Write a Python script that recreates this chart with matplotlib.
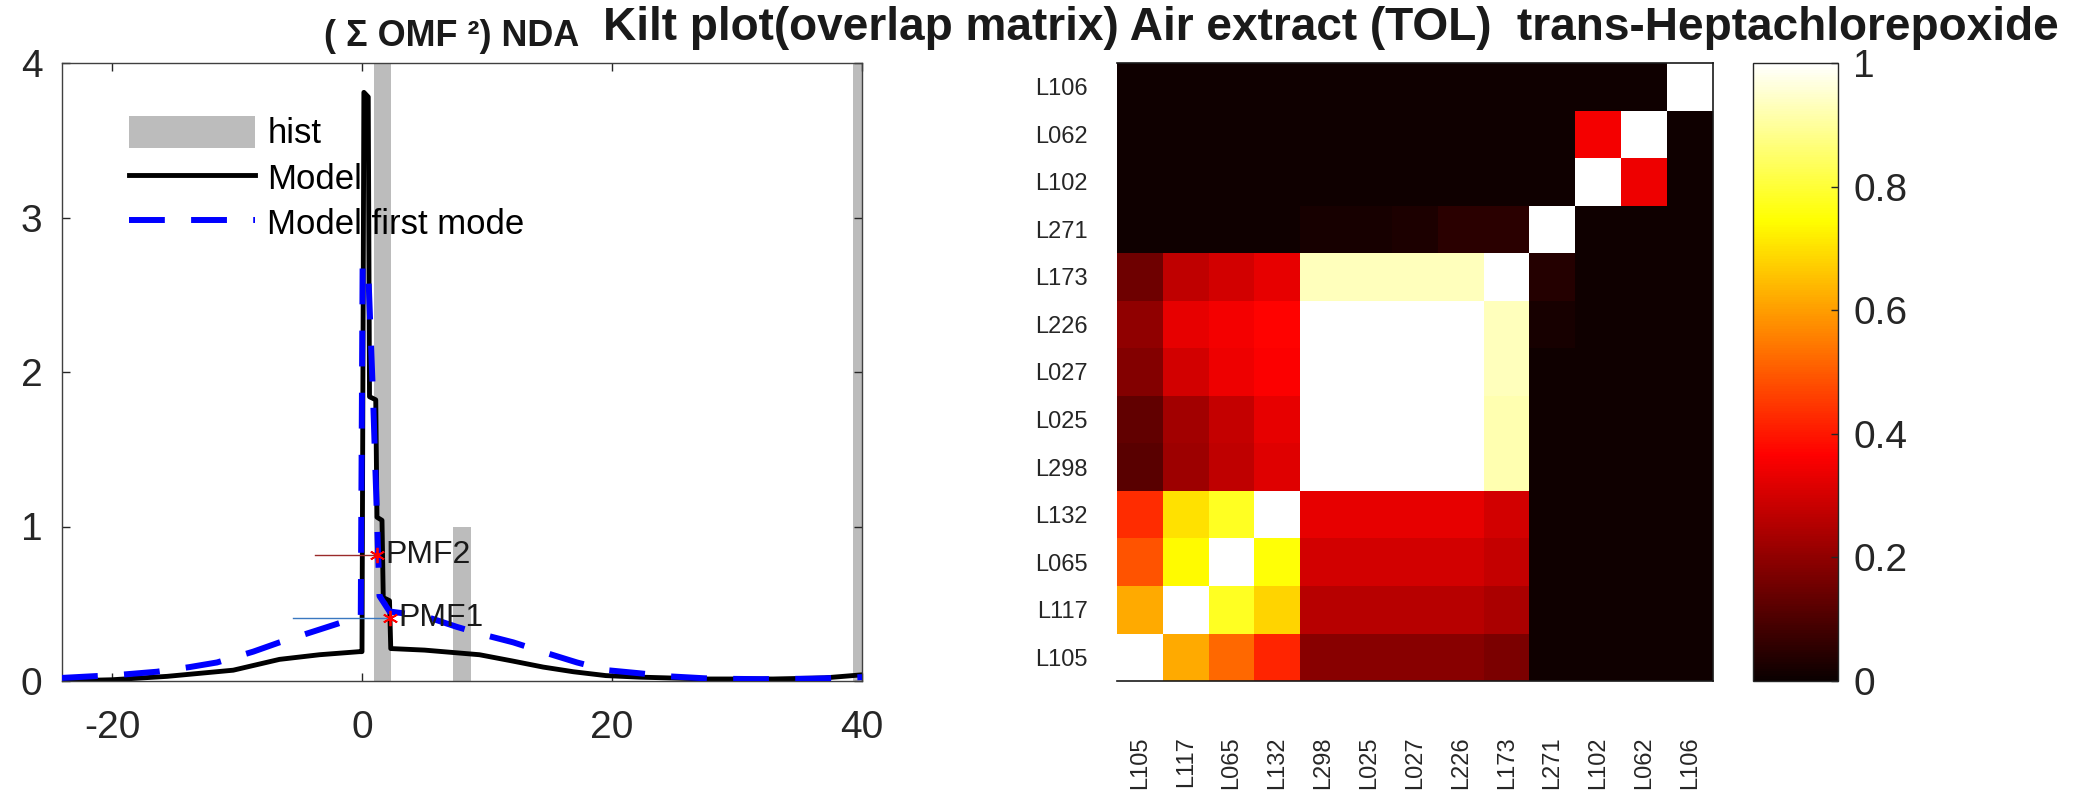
import numpy as np
import matplotlib
matplotlib.use('Agg')
import matplotlib.pyplot as plt
from matplotlib.patches import Patch
from matplotlib.lines import Line2D

plt.rcParams['font.family'] = ['Liberation Sans', 'DejaVu Sans']
plt.rcParams['axes.unicode_minus'] = False

# ---- left panel: histogram + model curves ----
hist_x = [1.64, 8.0, 40.0]
hist_h = [5.0, 1.0, 5.0]

model_x = [-24, -20, -15.6, -10.3, -6.6, -3.4, -0.2, 0.0, 0.15, 0.5, 0.6, 1.1, 1.2, 1.6, 1.7,
           2.2, 2.3, 5, 9.4, 12, 14.5, 16.9, 19.5, 22.2, 27.6, 32.9, 37, 40]
model_y = [0.0, 0.008, 0.03, 0.07, 0.14, 0.17, 0.19, 0.19, 3.81, 3.78, 1.84, 1.82, 1.06, 1.04, 0.54,
           0.52, 0.21, 0.2, 0.17, 0.13, 0.09, 0.06, 0.035, 0.025, 0.013, 0.013, 0.02, 0.04]

mode1_x = [-24, -19.4, -16.4, -13.8, -11.6, -8.7, -6.6, -3.9, -1.6, -0.1, 0.05, 0.5, 0.9, 1.4,
           2.2, 5, 7.6, 9.7, 12.1, 14.8, 17.2, 19.6, 22.2, 24.6, 28, 32, 36, 40]
mode1_y = [0.02, 0.04, 0.06, 0.09, 0.12, 0.19, 0.25, 0.32, 0.38, 0.40, 2.7, 2.65, 1.8, 0.55,
           0.45, 0.42, 0.35, 0.30, 0.25, 0.18, 0.12, 0.07, 0.05, 0.03, 0.015, 0.012, 0.015, 0.025]

pmf_names = ['PMF2', 'PMF1']
pmf_x = [1.2, 2.24]
pmf_y = [0.816, 0.41]
pmf_lo = [-3.76, -5.5]

# ---- right panel: overlap matrix (rows bottom -> top) ----
labels = ['L105', 'L117', 'L065', 'L132', 'L298', 'L025', 'L027', 'L226', 'L173',
          'L271', 'L102', 'L062', 'L106']
overlap = np.array([
    [1.00, 0.62, 0.52, 0.42, 0.19, 0.19, 0.19, 0.19, 0.17, 0.01, 0.01, 0.01, 0.01],
    [0.62, 1.00, 0.78, 0.68, 0.26, 0.26, 0.26, 0.26, 0.24, 0.01, 0.01, 0.01, 0.01],
    [0.49, 0.74, 1.00, 0.75, 0.30, 0.30, 0.30, 0.30, 0.28, 0.01, 0.01, 0.01, 0.01],
    [0.43, 0.70, 0.78, 1.00, 0.33, 0.33, 0.33, 0.33, 0.30, 0.01, 0.01, 0.01, 0.01],
    [0.12, 0.22, 0.27, 0.32, 1.00, 1.00, 1.00, 1.00, 0.92, 0.01, 0.01, 0.01, 0.01],
    [0.13, 0.23, 0.28, 0.33, 1.00, 1.00, 1.00, 1.00, 0.92, 0.01, 0.01, 0.01, 0.01],
    [0.18, 0.30, 0.34, 0.36, 1.00, 1.00, 1.00, 1.00, 0.93, 0.01, 0.01, 0.01, 0.01],
    [0.20, 0.33, 0.35, 0.37, 1.00, 1.00, 1.00, 1.00, 0.93, 0.02, 0.01, 0.01, 0.01],
    [0.15, 0.27, 0.30, 0.33, 0.93, 0.93, 0.93, 0.93, 1.00, 0.04, 0.01, 0.01, 0.01],
    [0.01, 0.01, 0.01, 0.01, 0.02, 0.02, 0.03, 0.05, 0.05, 1.00, 0.01, 0.01, 0.01],
    [0.01, 0.01, 0.01, 0.01, 0.01, 0.01, 0.01, 0.01, 0.01, 0.01, 1.00, 0.34, 0.01],
    [0.01, 0.01, 0.01, 0.01, 0.01, 0.01, 0.01, 0.01, 0.01, 0.01, 0.35, 1.00, 0.01],
    [0.01, 0.01, 0.01, 0.01, 0.01, 0.01, 0.01, 0.01, 0.01, 0.01, 0.01, 0.01, 1.00],
])
cbar_ticks = [0, 0.2, 0.4, 0.6, 0.8, 1]
cbar_labels = ['0', '0.2', '0.4', '0.6', '0.8', '1']

W, H = 2089, 802
fig = plt.figure(figsize=(W / 100, H / 100), dpi=100)
fig.patch.set_facecolor('white')

def box(l, r, t, b):
    return [l / W, 1 - b / H, (r - l) / W, (b - t) / H]

# ---------- left axes ----------
ax = fig.add_axes(box(62, 862, 63, 681))
ax.bar(hist_x, hist_h, width=1.4, color='#bcbcbc', edgecolor='none', zorder=1)
ax.plot(model_x, model_y, color='black', lw=3.5, zorder=2)
ax.plot(mode1_x, mode1_y, color='#0000ff', lw=4.3, linestyle=(0, (6, 4.4)), zorder=3)

line_cols = ['#9a2a2a', '#3a78c0']
for name, px, py, lo, c in zip(pmf_names, pmf_x, pmf_y, pmf_lo, line_cols):
    ax.plot([lo, px], [py, py], color=c, lw=1.0, zorder=4)
    ax.plot(px, py, marker=(6, 2, 0), ms=11, mew=1.3, color='red', zorder=5)
    ax.annotate(name, (px, py), xytext=(6, 0), textcoords='offset points',
                fontsize=23, va='center', ha='left', color='#1a1a1a', zorder=6)

ax.set_xlim(-24, 40)
ax.set_ylim(0, 4)
ax.set_xticks([-20, 0, 20, 40])
ax.set_yticks([0, 1, 2, 3, 4])
ax.tick_params(direction='in', length=6, width=1, top=True, right=True,
               labelsize=28, colors='#262626')
ax.tick_params(axis='x', pad=21)
ax.tick_params(axis='y', pad=14)
for s in ax.spines.values():
    s.set_color('#404040')
    s.set_linewidth(1)

handles = [Patch(facecolor='#bcbcbc', edgecolor='none'),
           Line2D([], [], color='black', lw=3.5),
           Line2D([], [], color='#0000ff', lw=4.3, linestyle=(0, (6, 4.4)))]
ax.legend(handles, ['hist', 'Model', 'Model first mode'], loc='upper left',
          bbox_to_anchor=(0.084, 0.915), frameon=False, fontsize=25,
          handlelength=3.63, handleheight=1.04, handletextpad=0.35,
          labelspacing=0.3, borderpad=0, borderaxespad=0)

# ---------- heatmap ----------
hx = fig.add_axes(box(1117, 1713, 63, 681))
im = hx.imshow(overlap, cmap='hot', vmin=0, vmax=1, origin='lower',
               aspect='auto', interpolation='nearest')
hx.set_xticks(range(len(labels)))
hx.set_xticklabels(labels, rotation=90, fontsize=17, color='#262626')
hx.set_yticks(range(len(labels)))
hx.set_yticklabels(labels, fontsize=17, color='#262626')
hx.tick_params(length=0)
hx.tick_params(axis='x', pad=40)
hx.tick_params(axis='y', pad=21)
hx.spines['left'].set_visible(False)
for k in ['top', 'right', 'bottom']:
    hx.spines[k].set_color('#1a1a1a')
    hx.spines[k].set_linewidth(1.2)

cax = fig.add_axes(box(1753, 1838, 63, 681))
cb = fig.colorbar(im, cax=cax)
cb.set_ticks(cbar_ticks)
cb.set_ticklabels(cbar_labels)
cax.tick_params(direction='in', length=5, width=1, labelsize=28, pad=11, colors='#262626')
cb.outline.set_edgecolor('#262626')
cb.outline.set_linewidth(1)

# ---------- titles ----------
t1 = fig.text(324 / W, 1 - 46 / H, '( \u03a3 OMF \u00b2) NDA', fontsize=20,
              fontweight='bold', ha='left', va='baseline', color='#1a1a1a')
t2 = fig.text(603 / W, 1 - 40 / H,
              'Kilt plot(overlap matrix) Air extract (TOL)  trans-Heptachlorepoxide',
              fontsize=30, fontweight='bold', ha='left', va='baseline', color='#1a1a1a')
fig.canvas.draw()
r = fig.canvas.get_renderer()
for t, target in [(t1, 256), (t2, 1456)]:
    w = t.get_window_extent(r).width
    t.set_fontsize(t.get_fontsize() * target / w)

fig.savefig('out.png', dpi=100, facecolor='white')
